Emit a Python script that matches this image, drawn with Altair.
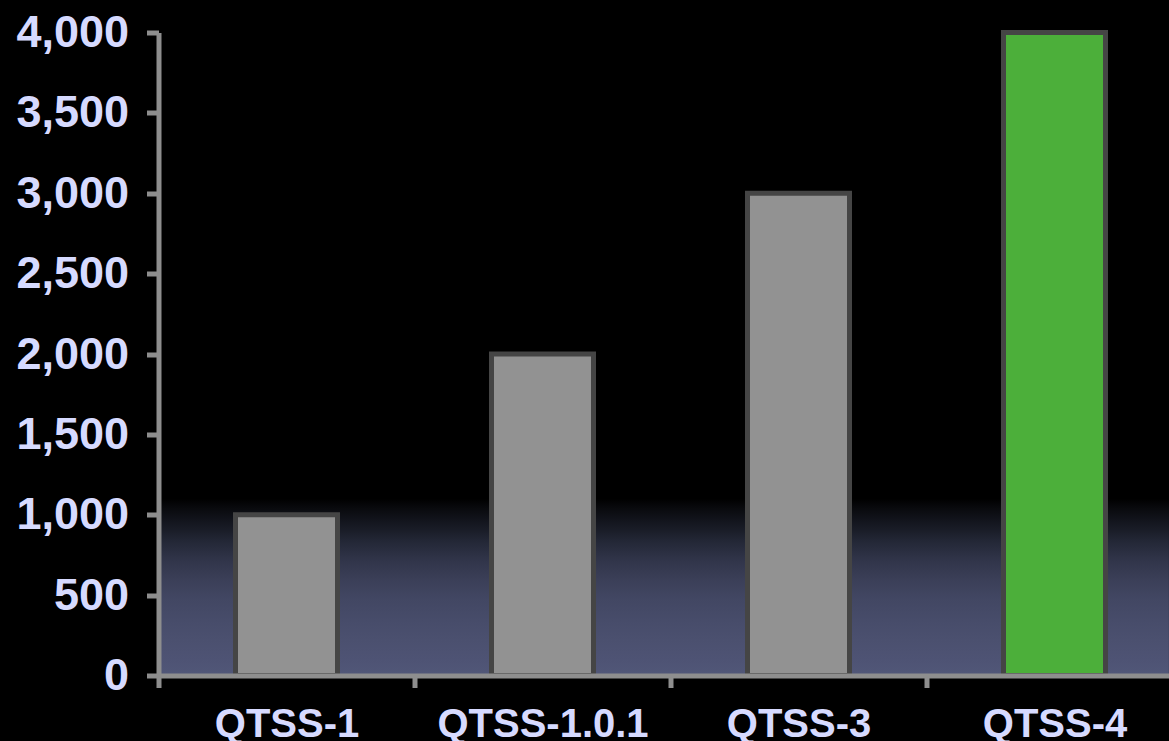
import altair as alt
import pandas as pd

versions = ["QTSS-1", "QTSS-1.0.1", "QTSS-3", "QTSS-4"]
values = [1000, 2000, 3000, 4000]
bar_colors = ["#929292", "#929292", "#929292", "#4caf3a"]
y_ticks = [0, 500, 1000, 1500, 2000, 2500, 3000, 3500, 4000]

df = pd.DataFrame({"version": versions, "value": values})

label_color = "#d6daff"
axis_color = "#8e8e8e"
font = "Liberation Sans"

W, H = 1010, 643

x_enc = alt.X(
    "version:N",
    sort=versions,
    scale=alt.Scale(range=[0, 1024], paddingInner=0, paddingOuter=0),
    axis=alt.Axis(
        title=None, labelAngle=0, labelFontSize=40, labelFont=font,
        labelFontWeight="bold", labelColor=label_color, labelPadding=17,
        labelLimit=0, labelOverlap=False,
        tickSize=12, tickWidth=5, tickColor=axis_color, domainWidth=5,
        domainColor=axis_color, tickBand="extent", zindex=2,
    ),
)
y_scale = alt.Scale(domain=[0, 4000], nice=False)
y_axis = alt.Axis(
    title=None, values=y_ticks, format=",.0f", labelFontSize=45, labelFont=font,
    labelFontWeight="bold", labelColor=label_color, labelPadding=18,
    labelLimit=0, labelOverlap=False,
    tickSize=12, tickWidth=5, tickColor=axis_color, domainWidth=5,
    domainColor=axis_color, grid=False, zindex=2,
)

grad = alt.Gradient(
    gradient="linear", x1=0, y1=0, x2=0, y2=1,
    stops=[
        alt.GradientStop(offset=0.0, color="#000000"),
        alt.GradientStop(offset=0.06, color="#0a0b0f"),
        alt.GradientStop(offset=0.12, color="#12141c"),
        alt.GradientStop(offset=0.18, color="#1a1d28"),
        alt.GradientStop(offset=0.24, color="#232736"),
        alt.GradientStop(offset=0.35, color="#31354a"),
        alt.GradientStop(offset=0.46, color="#3b3f58"),
        alt.GradientStop(offset=0.57, color="#424763"),
        alt.GradientStop(offset=0.69, color="#474c6a"),
        alt.GradientStop(offset=0.80, color="#4b506f"),
        alt.GradientStop(offset=0.91, color="#4e5374"),
        alt.GradientStop(offset=1.0, color="#515778"),
    ],
)

bg = alt.Chart(df).mark_rect(fill=grad).encode(
    x=alt.value(0), x2=alt.value(W),
    y=alt.datum(1100, scale=y_scale), y2=alt.datum(0),
)

bars = alt.Chart(df).mark_bar(
    width=102, stroke="#454545", strokeWidth=5, strokeJoin="miter"
).encode(
    x=x_enc,
    y=alt.Y("value:Q", scale=y_scale, axis=y_axis),
    fill=alt.Fill("version:N", scale=alt.Scale(domain=versions, range=bar_colors), legend=None),
)

chart = alt.layer(bg, bars).properties(
    width=W, height=H,
    autosize=alt.AutoSizeParams(type="none"),
    padding={"left": 158.5, "top": 32.5, "right": 0, "bottom": 65.5},
    background="#000000",
).configure_view(stroke=None)


# page template: Altair's standard one, with a black, margin-free page
extra = {}
try:
    from altair.utils.html import TEMPLATES as _T

    _base = _T["standard"]

    class _BlackPage:
        def render(self, *args, **kwargs):
            html = _base.render(*args, **kwargs)
            return html.replace(
                "<head>",
                "<head>\n<style>html, body { background: #000000; margin: 0; padding: 0; overflow: hidden; }</style>",
                1,
            )

    extra["template"] = _BlackPage()
except Exception:
    extra = {}

chart.save("out.html", embed_options={"renderer": "svg", "actions": False}, **extra)
